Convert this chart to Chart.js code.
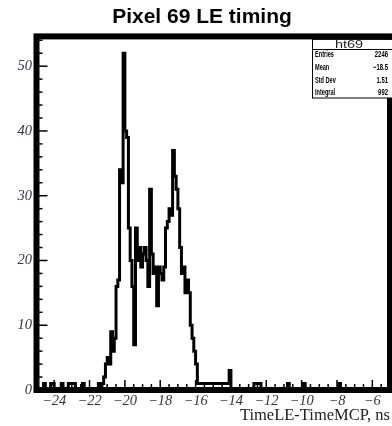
<!DOCTYPE html>
<html>
<head>
<meta charset="utf-8">
<title>Pixel 69 LE timing</title>
<script src="https://cdn.jsdelivr.net/npm/chart.js@4.4.1/dist/chart.umd.min.js"></script>
<style>
  html, body { margin: 0; padding: 0; background: #fff; }
  #wrap { width: 392px; height: 426px; }
</style>
</head>
<body>
<div id="wrap"><canvas id="ht69" width="392" height="426"></canvas></div>
<script>
// histogram ht69: 200 bins of 0.1 ns from -25 to -5
const binLow = -25;
const binWidth = 0.1;
const counts = [
    0, 0, 0, 0, 1, 0, 0, 0, 1, 1,
    0, 0, 0, 0, 1, 0, 0, 0, 1, 1,
    1, 1, 0, 0, 0, 0, 1, 0, 0, 0,
    0, 0, 0, 0, 0, 1, 0, 1, 2, 4,
    5, 4, 9, 6, 8, 16, 17, 34, 32, 52,
    40, 39, 25, 20, 16, 7, 25, 20, 22, 19,
    21, 22, 20, 16, 31, 21, 18, 19, 13, 19,
    18, 17, 19, 25, 26, 28, 27, 37, 33, 31,
    28, 22, 18, 19, 15, 17, 15, 10, 8, 6,
    4, 1, 1, 1, 1, 1, 1, 1, 1, 1,
    1, 1, 1, 1, 1, 1, 1, 1, 1, 3,
    0, 0, 0, 0, 0, 0, 0, 0, 0, 0,
    0, 0, 0, 1, 1, 1, 1, 0, 0, 0,
    0, 0, 0, 0, 0, 0, 0, 0, 0, 0,
    0, 0, 1, 0, 0, 0, 0, 0, 0, 0,
    0, 1, 0, 0, 0, 0, 0, 0, 0, 0,
    0, 0, 0, 0, 0, 0, 0, 0, 0, 0,
    0, 1, 0, 0, 0, 0, 0, 0, 0, 0,
    0, 0, 0, 0, 0, 0, 0, 0, 0, 0,
    0, 0, 0, 0, 0, 0, 0, 0, 0, 0
];

const xTickValues = [-24, -22, -20, -18, -16, -14, -12, -10, -8, -6];
const yTickValues = [0, 10, 20, 30, 40, 50];
const xMinorStep = 0.5;
const yMinorStep = 2;
const yMax = 54.6;

const statsTitle = 'ht69';
const statsLabels = ['Entries', 'Mean', 'Std Dev', 'Integral'];
const statsValues = ['2246', '\u221218.5', '1.51', '992'];

// bin left edges + closing point at the last right edge
const points = counts.map((c, i) => ({ x: binLow + i * binWidth, y: c }));
points.push({ x: binLow + counts.length * binWidth, y: counts[counts.length - 1] });

function fmtMinus(v) {
    return v < 0 ? '\u2212' + Math.abs(v) : String(v);
}

function scaledText(ctx, text, x, y, sx, align) {
    ctx.save();
    ctx.translate(x, y);
    ctx.scale(sx, 1);
    ctx.textAlign = align;
    ctx.fillText(text, 0, 0);
    ctx.restore();
}

// ROOT style: inside ticks, stats box and thick frame
const rootFrame = {
    id: 'rootFrame',
    afterDatasetsDraw(chart) {
        const { ctx, chartArea: a, scales: { x, y } } = chart;
        ctx.save();

        ctx.strokeStyle = '#000';
        ctx.lineWidth = 1.5;
        for (let v = x.min; v <= x.max + 1e-9; v += xMinorStep) {
            const px = x.getPixelForValue(v);
            const major = xTickValues.some(t => Math.abs(t - v) < 1e-6);
            ctx.beginPath();
            ctx.moveTo(px, a.bottom);
            ctx.lineTo(px, a.bottom - (major ? 10 : 6));
            ctx.stroke();
        }
        for (let v = y.min; v <= y.max + 1e-9; v += yMinorStep) {
            const py = y.getPixelForValue(v);
            const major = yTickValues.includes(v);
            ctx.beginPath();
            ctx.moveTo(a.left, py);
            ctx.lineTo(a.left + (major ? 11 : 6), py);
            ctx.stroke();
        }

        // frame
        ctx.lineWidth = 6;
        ctx.strokeStyle = '#000';
        ctx.strokeRect(a.left, a.top, a.right - a.left, a.bottom - a.top);

        // stats box
        const bx = 312, by = a.top + 3, bw = 90, bh = 98 - by;
        ctx.fillStyle = '#fff';
        ctx.fillRect(bx, by, bw, bh);
        ctx.lineWidth = 1;
        ctx.strokeRect(bx + 0.5, by, bw, bh);
        ctx.beginPath();
        ctx.moveTo(bx, 49.5);
        ctx.lineTo(bx + bw, 49.5);
        ctx.stroke();

        ctx.fillStyle = '#222';
        ctx.textBaseline = 'middle';
        ctx.font = '10px "Liberation Sans", Arial, sans-serif';
        scaledText(ctx, statsTitle, 349, 45.2, 1.45, 'center');

        ctx.fillStyle = '#000';
        ctx.font = 'bold 9px "Liberation Sans", Arial, sans-serif';
        const rowY = [55, 67.5, 80.5, 93];
        statsLabels.forEach((lab, i) => {
            scaledText(ctx, lab, 315, rowY[i], 0.62, 'left');
            scaledText(ctx, statsValues[i], 388, rowY[i], 0.66, 'right');
        });
        ctx.restore();
    }
};

const tickColor = '#34344c';

new Chart(document.getElementById('ht69'), {
    type: 'line',
    data: {
        datasets: [{
            label: 'ht69',
            data: points,
            stepped: 'before',
            borderColor: '#000',
            borderWidth: 3,
            borderJoinStyle: 'miter',
            pointRadius: 0,
            fill: false
        }]
    },
    options: {
        responsive: false,
        animation: false,
        devicePixelRatio: 1,
        layout: { padding: { left: 14, right: 2, top: 0, bottom: 0 } },
        plugins: {
            legend: { display: false },
            tooltip: { enabled: false },
            title: {
                display: true,
                text: 'Pixel 69 LE timing',
                color: '#000',
                font: { family: '"Liberation Sans", Arial, sans-serif', size: 21, weight: 'bold' },
                padding: { top: 4.5, bottom: 6.7 }
            }
        },
        scales: {
            x: {
                type: 'linear',
                min: -25,
                max: -5,
                grid: { display: false, drawTicks: false },
                border: { display: false },
                afterBuildTicks: s => { s.ticks = xTickValues.map(v => ({ value: v })); },
                afterFit: s => { s.height = 36; },
                ticks: {
                    autoSkip: false,
                    maxRotation: 0,
                    padding: 2,
                    color: tickColor,
                    font: { family: '"Liberation Serif", "Times New Roman", serif', size: 14.5, style: 'italic' },
                    callback: v => fmtMinus(v)
                },
                title: {
                    display: true,
                    text: 'TimeLE-TimeMCP, ns',
                    align: 'end',
                    color: '#222',
                    font: { family: '"Liberation Serif", "Times New Roman", serif', size: 16.5 },
                    padding: { top: 0, bottom: 0 }
                }
            },
            y: {
                type: 'linear',
                min: 0,
                max: yMax,
                grid: { display: false, drawTicks: false },
                border: { display: false },
                afterBuildTicks: s => { s.ticks = yTickValues.map(v => ({ value: v })); },
                afterFit: s => { s.width = 22.5; },
                ticks: {
                    padding: 4.5,
                    color: tickColor,
                    font: { family: '"Liberation Serif", "Times New Roman", serif', size: 14.5, style: 'italic' }
                }
            }
        }
    },
    plugins: [rootFrame]
});
</script>
</body>
</html>
